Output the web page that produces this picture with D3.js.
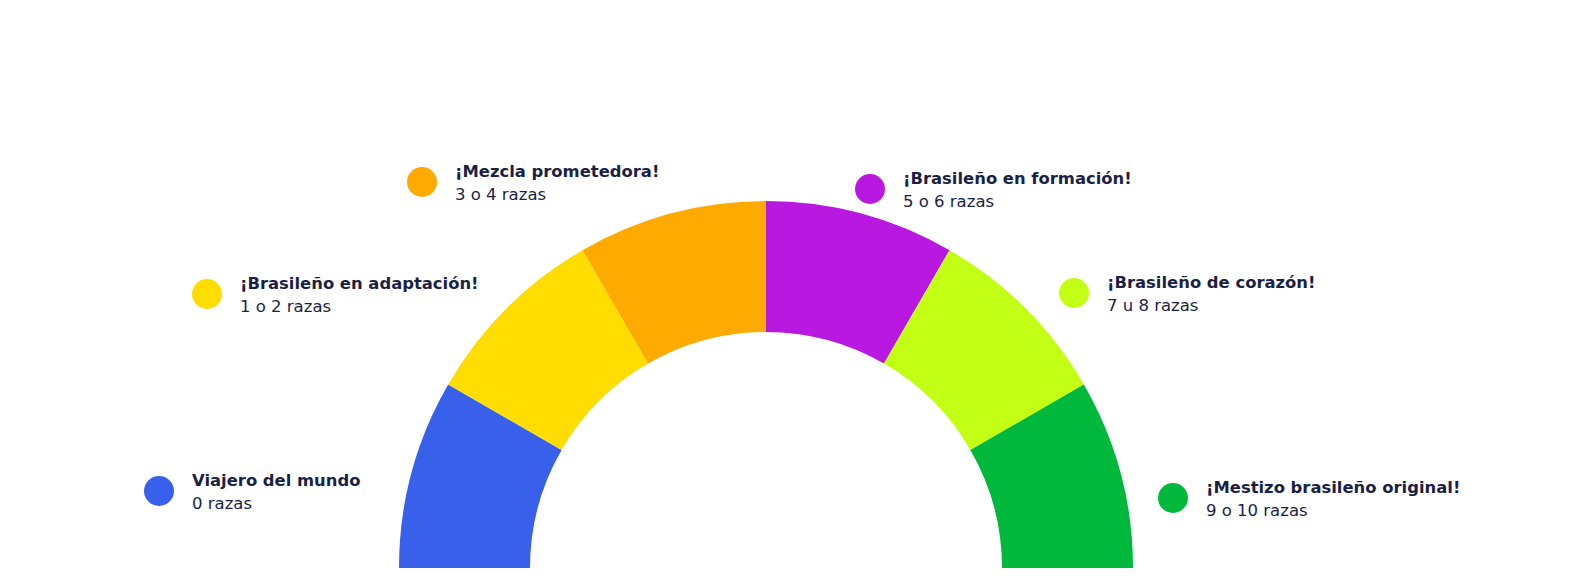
<!DOCTYPE html>
<html>
<head>
<meta charset="utf-8">
<script src="https://cdn.jsdelivr.net/npm/d3@7"></script>
<style>
  html, body { margin: 0; padding: 0; background: #fff; }
  svg { display: block; }
  .title { font-family: "DejaVu Sans", sans-serif; font-weight: 700; font-size: 16.4px; fill: #1b1f45; }
  .sub { font-family: "DejaVu Sans", sans-serif; font-weight: 400; font-size: 16.5px; fill: #1b1f45; }
</style>
</head>
<body>
<div id="chart"></div>
<script>
const WIDTH = 1590;
const HEIGHT = 584;

// data
const titles = ["Viajero del mundo", "¡Brasileño en adaptación!", "¡Mezcla prometedora!",
                "¡Brasileño en formación!", "¡Brasileño de corazón!", "¡Mestizo brasileño original!"];
const subtitles = ["0 razas", "1 o 2 razas", "3 o 4 razas", "5 o 6 razas", "7 u 8 razas", "9 o 10 razas"];
const values = [1, 1, 1, 1, 1, 1];
const colors = ["#3960ea", "#ffdd00", "#ffaa00", "#b818e0", "#c3ff14", "#00b83c"];

// legend anchor for each slice, offset from the gauge centre (layout only)
const legendOffsets = [[-607, -77], [-559, -274], [-344, -386], [104, -379], [308, -275], [407, -70]];

const CX = 766, CY = 568, R_OUT = 367, R_IN = 236;

const svg = d3.select("#chart").append("svg")
  .attr("width", WIDTH)
  .attr("height", HEIGHT);

const g = svg.append("g").attr("transform", `translate(${CX},${CY})`);

const slices = titles.map((t, i) => ({ title: t, sub: subtitles[i], value: values[i], color: colors[i] }));

const pie = d3.pie()
  .value(d => d.value)
  .sort(null)
  .startAngle(-Math.PI / 2)
  .endAngle(Math.PI / 2);

const arc = d3.arc().innerRadius(R_IN).outerRadius(R_OUT);

g.selectAll("path.slice")
  .data(pie(slices))
  .join("path")
  .attr("class", "slice")
  .attr("d", arc)
  .attr("fill", d => d.data.color);

// legend
const legend = g.selectAll("g.legend")
  .data(slices)
  .join("g")
  .attr("class", "legend")
  .attr("transform", (d, i) => `translate(${legendOffsets[i][0]},${legendOffsets[i][1]})`);

legend.append("circle")
  .attr("r", 15)
  .attr("fill", d => d.color);

legend.append("text")
  .attr("class", "title")
  .attr("x", 33)
  .attr("y", -5)
  .text(d => d.title);

legend.append("text")
  .attr("class", "sub")
  .attr("x", 33)
  .attr("y", 18)
  .text(d => d.sub);
</script>
</body>
</html>
